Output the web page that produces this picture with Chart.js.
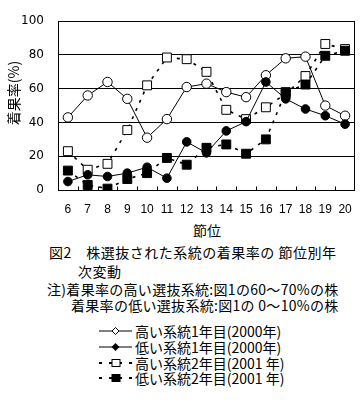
<!DOCTYPE html>
<html>
<head>
<meta charset="utf-8">
<script src="https://cdn.jsdelivr.net/npm/chart.js@4/dist/chart.umd.min.js"></script>
<style>
  body { margin: 0; background: #fff; }
  #wrap { position: relative; width: 364px; height: 404px; overflow: hidden; }
  #c { position: absolute; left: 0; top: 0; }
  .t {
    position: absolute;
    font-family: "Noto Sans CJK JP", sans-serif;
    font-size: 14px;
    line-height: 16px;
    color: #000;
    white-space: nowrap;
  }
  .cap { letter-spacing: 0.5px; }
  .leg svg { position: absolute; left: -36px; top: 0; }
</style>
</head>
<body>
<div id="wrap">
  <canvas id="c" width="364" height="220"></canvas>
  <div class="t" id="ytitle" style="left:-22px; top:85px; width:70px; text-align:center; transform:rotate(-90deg);">着果率(%)</div>
  <div class="t" style="left:187px; top:222px; width:40px; text-align:center;">節位</div>
  <div class="t cap" style="left:49px; top:244px;">図2　株選抜された系統の着果率の 節位別年</div>
  <div class="t cap" style="left:78px; top:263px;">次変動</div>
  <div class="t cap" style="left:47px; top:281px; letter-spacing:0.3px;">注)着果率の高い選抜系統:図1の60～70%の株</div>
  <div class="t cap" style="left:71px; top:297px; letter-spacing:0.3px;">着果率の低い選抜系統:図1の 0～10%の株</div>
  <div id="legend"></div>
</div>
<script>
// node positions (x axis)
const nodes = ['6', '7', '8', '9', '10', '11', '12', '13', '14', '15', '16', '17', '18', '19', '20'];

// fruit set rate (%)
const high2000 = [43, 56, 64, 54, 31, 42, 61, 63, 58, 55, 68, 78, 79, 50, 44];
const low2000 = [5, 9, 8, 10, 13.5, 7, 28.5, 22, 35, 40.5, 64, 54, 48, 44, 39];
const high2001 = [23, 12, 15.5, 35.5, 62, 78.5, 77.5, 70, 47.5, 42, 49, 57, 67.5, 86.5, 83.5];
const low2001 = [11.5, 3, 0.8, 6.5, 10, 19, 15, 25, 27, 21.5, 30, 58, 62.5, 79.5, 82.5];

const yTicks = [0, 20, 40, 60, 80, 100];

const legendNames = [
  '高い系統1年目(2000年)',
  '低い系統1年目(2000年)',
  '高い系統2年目(2001 年)',
  '低い系統2年目(2001 年)'
];

// plot frame + small inward ticks on the x axis
const framePlugin = {
  id: 'frame',
  beforeDatasetsDraw(chart) {
    const { ctx, chartArea: a } = chart;
    ctx.save();
    ctx.strokeStyle = '#000';
    ctx.lineWidth = 1;
    const l = Math.round(a.left) + 0.5, r = Math.round(a.right) - 0.5;
    const t = Math.round(a.top) + 0.5, b = Math.round(a.bottom) + 0.5;
    ctx.strokeRect(l, t, r - l, b - t);
    const step = (a.right - a.left) / nodes.length;
    ctx.beginPath();
    for (let i = 1; i < nodes.length; i++) {
      const x = Math.round(a.left + i * step) + 0.5;
      ctx.moveTo(x, b);
      ctx.lineTo(x, b - 4);
    }
    ctx.stroke();
    ctx.restore();
  }
};

const ctx = document.getElementById('c');

new Chart(ctx, {
  type: 'line',
  data: {
    labels: nodes,
    datasets: [
      {
        label: legendNames[0],
        data: high2000,
        borderColor: '#000',
        borderWidth: 1,
        pointStyle: 'circle',
        pointRadius: 4.7,
        pointBackgroundColor: '#fff',
        pointBorderColor: '#000',
        pointBorderWidth: 1,
        order: 4
      },
      {
        label: legendNames[1],
        data: low2000,
        borderColor: '#000',
        borderWidth: 1,
        pointStyle: 'circle',
        pointRadius: 4.3,
        pointBackgroundColor: '#000',
        pointBorderColor: '#000',
        pointBorderWidth: 1,
        order: 2
      },
      {
        label: legendNames[2],
        data: high2001,
        borderColor: '#000',
        borderWidth: 1.6,
        borderDash: [3, 6],
        pointStyle: 'rect',
        pointRadius: 6.3,
        pointBackgroundColor: '#fff',
        pointBorderColor: '#000',
        pointBorderWidth: 1,
        order: 3
      },
      {
        label: legendNames[3],
        data: low2001,
        borderColor: '#000',
        borderWidth: 1.6,
        borderDash: [3, 6],
        pointStyle: 'rect',
        pointRadius: 6.3,
        pointBackgroundColor: '#000',
        pointBorderColor: '#000',
        pointBorderWidth: 1,
        order: 1
      }
    ]
  },
  options: {
    responsive: false,
    animation: false,
    layout: { padding: { left: 0, right: 6, top: 17, bottom: 0 } },
    plugins: {
      legend: { display: false },
      tooltip: { enabled: false }
    },
    scales: {
      x: {
        offset: true,
        grid: { display: false, drawTicks: false },
        border: { display: false },
        ticks: {
          color: '#000',
          padding: 12,
          maxRotation: 0,
          autoSkip: false,
          font: { family: 'Liberation Sans', size: 12 }
        },
        afterFit(s) { s.height = 30; }
      },
      y: {
        min: 0,
        max: 100,
        afterBuildTicks(s) { s.ticks = yTicks.map(v => ({ value: v })); },
        grid: { color: '#000', lineWidth: 1, drawTicks: false },
        border: { display: false },
        ticks: {
          color: '#000',
          padding: 14,
          font: { family: 'DejaVu Sans', size: 12 }
        },
        afterFit(s) { s.width = 58; }
      }
    }
  },
  plugins: [framePlugin]
});

// legend rows
const legendTop = [331, 347, 363, 378];
const legendSvg = [
  '<line x1="0" y1="8" x2="33" y2="8" stroke="#000"/><path d="M16.5 4.5 L20 8 L16.5 11.5 L13 8 Z" fill="#fff" stroke="#000"/>',
  '<line x1="0" y1="8" x2="33" y2="8" stroke="#000"/><path d="M16.5 4 L20.5 8 L16.5 12 L12.5 8 Z" fill="#000"/>',
  '<line x1="0" y1="8" x2="33" y2="8" stroke="#000" stroke-width="2" stroke-dasharray="3,7"/><rect x="13" y="4.5" width="8" height="7" fill="#fff" stroke="#000"/>',
  '<line x1="0" y1="8" x2="33" y2="8" stroke="#000" stroke-width="2" stroke-dasharray="3,7"/><rect x="12.5" y="4" width="9" height="8" fill="#000"/>'
];
const legendEl = document.getElementById('legend');
legendNames.forEach((name, i) => {
  const d = document.createElement('div');
  d.className = 't leg';
  d.style.left = '135px';
  d.style.top = (legendTop[i] - 8) + 'px';
  d.innerHTML = '<svg width="34" height="16">' + legendSvg[i] + '</svg>' + name;
  legendEl.appendChild(d);
});
</script>
</body>
</html>
